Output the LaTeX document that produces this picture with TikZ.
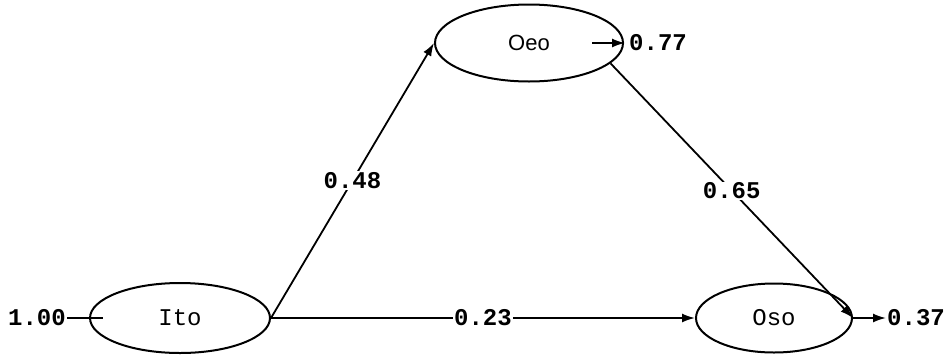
\documentclass[tikz,border=0pt]{standalone}
\usepackage{fontspec}
\setmonofont{Liberation Mono}
\setsansfont{Liberation Sans}
\usetikzlibrary{shapes.geometric,arrows.meta}
\begin{document}
\begin{tikzpicture}[x=1pt,y=-1pt,
  var/.style={ellipse,draw,line width=2pt,inner sep=0pt},
  lbl/.style={font=\ttfamily\bfseries\fontsize{24}{24}\selectfont,inner sep=1pt},
  conn/.style={line width=1.8pt},
  arr/.style={conn,-{Latex[length=13pt,width=9pt]}}]
\useasboundingbox (0,0) rectangle (948,357);
\node[var,minimum width=180,minimum height=70,font=\ttfamily\fontsize{24}{24}\selectfont] (ito) at (180,318) {Ito};
\node[var,minimum width=188,minimum height=77,font=\sffamily\fontsize{22}{22}\selectfont] (oeo) at (529,43) {Oeo};
\node[var,minimum width=156,minimum height=69,font=\ttfamily\fontsize{24}{24}\selectfont] (oso) at (774,318) {Oso};
\node[lbl] (e0) at (37,318) {1.00};
\node[lbl] (e1) at (658,43) {0.77};
\node[lbl] (e2) at (916,318) {0.37};
\draw[conn] (e0.east) -- ([xshift=14pt]ito.west);
\draw[arr] ([xshift=-32pt]oeo.east) -- ([xshift=-3pt]e1.west);
\draw[arr] (oso.east) -- (e2.west);
\draw[arr] (ito.east) -- node[lbl,fill=white] {0.48} (oeo.west);
\draw[arr] (ito.east) -- node[lbl,fill=white] {0.23} (oso.west);
\draw[arr] (oeo.-14) -- node[lbl,fill=white] {0.65} (oso.east);
\end{tikzpicture}
\end{document}
